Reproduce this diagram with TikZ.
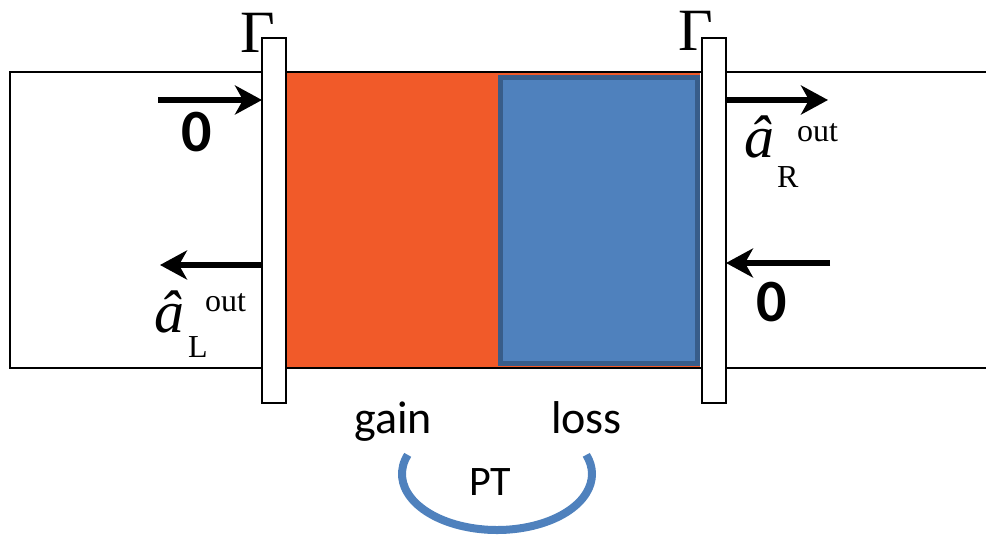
\documentclass[tikz,border=0pt]{standalone}
\usepackage{fontspec}
\setmainfont{Liberation Serif}
\newfontfamily\calfont{Carlito}
\usetikzlibrary{arrows.meta}
\definecolor{gainc}{RGB}{241,90,41}
\definecolor{lossc}{RGB}{79,129,189}
\definecolor{lossedge}{RGB}{56,93,138}
\tikzset{
  mirror/.style={draw=black, fill=white, line width=2pt, minimum width=24pt, minimum height=365pt, inner sep=0pt, outer sep=0pt},
  flow/.style={line width=6pt, -{Stealth[length=27pt,width=29pt,inset=8pt]}},
  zero/.style={anchor=base, inner sep=0pt, font=\calfont\bfseries\fontsize{60}{60}\selectfont},
  word/.style={anchor=base west, inner sep=0pt, font=\calfont\fontsize{46}{46}\selectfont},
  gam/.style={anchor=base west, inner sep=0pt, font=\fontsize{60}{60}\selectfont},
  ahat/.style={anchor=base west, inner sep=0pt, font=\itshape\fontsize{60}{60}\selectfont},
  small/.style={anchor=base west, inner sep=0pt, font=\fontsize{32}{32}\selectfont}
}
\begin{document}
\begin{tikzpicture}[x=1pt,y=-1pt]
\useasboundingbox (0,0) rectangle (986,540);
% cavity
\fill[gainc] (286,72) rectangle (700,368);
\draw[lossedge, fill=lossc, line width=5pt] (500.5,77.5) rectangle (697.5,363.5);
% waveguide
\draw[line width=1.6pt] (990,72) -- (10,72) -- (10,368) -- (990,368);
% mirrors
\node[mirror] (ML) at (274,220.5) {};
\node[mirror] (MR) at (714,220.5) {};
% labels Gamma
\node[gam] (GL) at (240,53) {Γ};
\node[gam] (GR) at (678,51) {Γ};
% arrow coordinates
\coordinate (inL) at (158,100);
\coordinate (outL) at (160,265);
\coordinate (outR) at (828,100);
\coordinate (inR) at (830,263);
\draw[flow] (inL) -- (ML.west |- inL);
\draw[flow] (ML.west |- outL) -- (outL);
\draw[flow] (MR.east |- outR) -- (outR);
\draw[flow] (inR) -- (MR.east |- inR);
% zeros
\node[zero] (zL) at (197,152) {0};
\node[zero] (zR) at (772,321) {0};
% output operators
\node[ahat] (aR) at (744,158) {â};
\node[small] (aRsup) at (797,142) {out};
\node[small] (aRsub) at (777,188) {R};
\node[ahat] (aL) at (154,333) {â};
\node[small] (aLsup) at (205,312) {out};
\node[small] (aLsub) at (188,357) {L};
% gain / loss / PT
\node[word] (gain) at (354,433) {gain};
\node[word] (loss) at (551,433) {loss};
\node[anchor=base west, inner sep=0pt, font=\calfont\fontsize{42}{42}\selectfont] (PT) at (469,495) {PT};
\draw[lossc, line width=8pt] (497,474) ++(200:95 and 56) arc[start angle=200, end angle=-20, x radius=95, y radius=56];
\end{tikzpicture}
\end{document}
